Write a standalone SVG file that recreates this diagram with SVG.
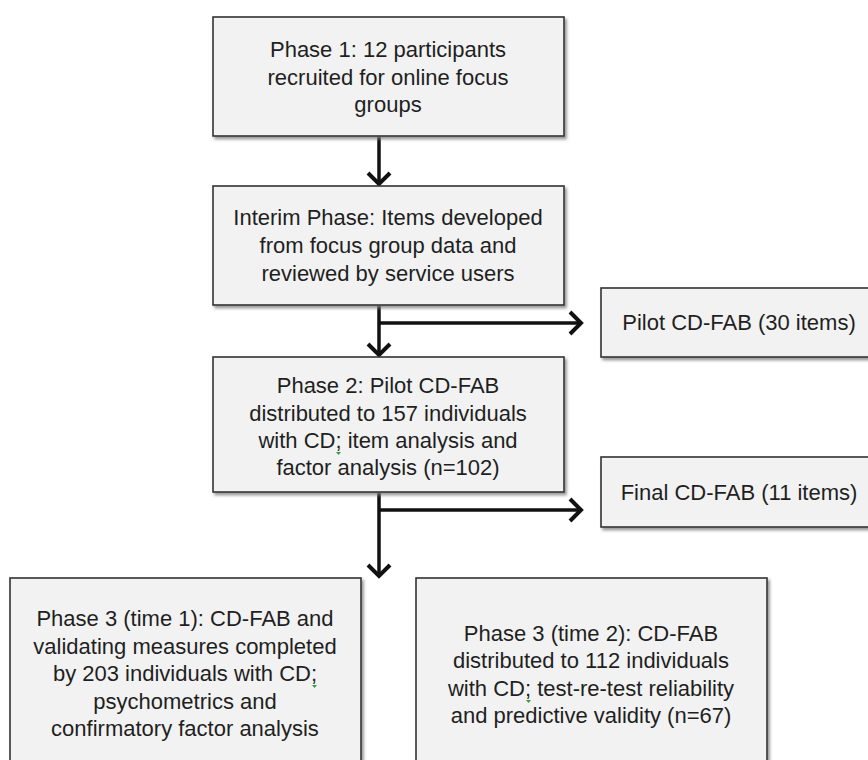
<svg xmlns="http://www.w3.org/2000/svg" width="868" height="760" viewBox="0 0 868 760">
  <defs>
    <filter id="sh" x="-5%" y="-5%" width="115%" height="115%">
      <feDropShadow dx="2" dy="2.5" stdDeviation="1.5" flood-color="#7a7a7a" flood-opacity="0.8"/>
    </filter>
    <style>
      .box { fill: #f2f2f2; stroke: #333333; stroke-width: 1.6; filter: url(#sh); }
      .t { font-family: "Liberation Sans", Arial, sans-serif; font-size: 22px; fill: #1f1f1f; text-anchor: middle; }
      .ln { stroke: #111111; stroke-width: 3.5; fill: none; }
      .hd { stroke: #111111; stroke-width: 4; fill: none; stroke-linejoin: miter; }
      .sq { fill: #3a9a3a; }
    </style>
  </defs>
  <rect width="868" height="760" fill="#ffffff"/>

  <g id="connectors">
    <line class="ln" x1="379" y1="137" x2="379" y2="183"/>
    <path class="hd" d="M368,173 L379,184 L390,173"/>
    <line class="ln" x1="379" y1="306" x2="379" y2="354"/>
    <path class="hd" d="M368,344 L379,355 L390,344"/>
    <line class="ln" x1="379" y1="323" x2="580" y2="323"/>
    <path class="hd" d="M570,312 L581,323 L570,334"/>
    <line class="ln" x1="379" y1="493" x2="379" y2="575"/>
    <path class="hd" d="M368,565 L379,576 L390,565"/>
    <line class="ln" x1="379" y1="510" x2="580" y2="510"/>
    <path class="hd" d="M570,499 L581,510 L570,521"/>
  </g>

  <g id="phase1">
    <rect class="box" x="213" y="17" width="351" height="119"/>
    <text class="t" x="388" y="57">Phase 1: 12 participants</text>
    <text class="t" x="388" y="85">recruited for online focus</text>
    <text class="t" x="388" y="112">groups</text>
  </g>

  <g id="interim">
    <rect class="box" x="213" y="186" width="351" height="119"/>
    <text class="t" x="388" y="225">Interim Phase: Items developed</text>
    <text class="t" x="388" y="253">from focus group data and</text>
    <text class="t" x="388" y="281">reviewed by service users</text>
  </g>

  <g id="pilot">
    <rect class="box" x="601" y="288" width="280" height="69"/>
    <text class="t" x="739" y="330">Pilot CD-FAB (30 items)</text>
  </g>

  <g id="phase2">
    <rect class="box" x="213" y="357" width="351" height="135"/>
    <text class="t" x="388" y="393">Phase 2: Pilot CD-FAB</text>
    <text class="t" x="388" y="421">distributed to 157 individuals</text>
    <text class="t" x="388" y="448">with CD; item analysis and</text>
    <text class="t" x="388" y="475">factor analysis (n=102)</text>
    <path class="sq" d="M336,452 l2.5,3 l2.5,-3 z"/>
  </g>

  <g id="final">
    <rect class="box" x="601" y="457" width="280" height="70"/>
    <text class="t" x="739" y="500">Final CD-FAB (11 items)</text>
  </g>

  <g id="phase3t1">
    <rect class="box" x="10" y="578" width="351" height="200"/>
    <text class="t" x="185" y="626">Phase 3 (time 1): CD-FAB and</text>
    <text class="t" x="185" y="654">validating measures completed</text>
    <text class="t" x="185" y="681">by 203 individuals with CD;</text>
    <text class="t" x="185" y="709">psychometrics and</text>
    <text class="t" x="185" y="736">confirmatory factor analysis</text>
    <path class="sq" d="M312,685 l2.5,3 l2.5,-3 z"/>
  </g>

  <g id="phase3t2">
    <rect class="box" x="416" y="578" width="351" height="200"/>
    <text class="t" x="591" y="641">Phase 3 (time 2): CD-FAB</text>
    <text class="t" x="591" y="668">distributed to 112 individuals</text>
    <text class="t" x="591" y="696">with CD; test-re-test reliability</text>
    <text class="t" x="591" y="723">and predictive validity (n=67)</text>
    <path class="sq" d="M526,700 l2.5,3 l2.5,-3 z"/>
  </g>
</svg>
